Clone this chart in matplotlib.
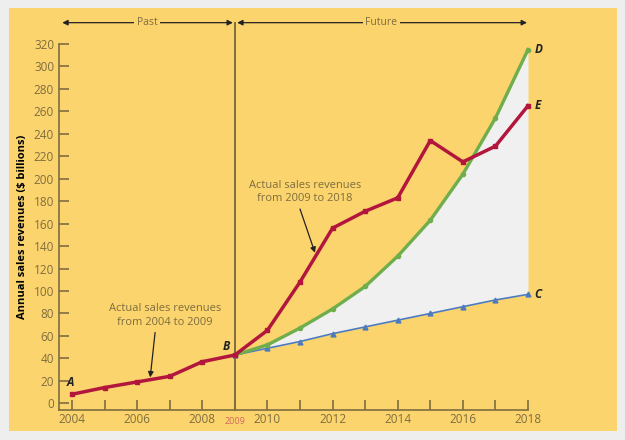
import numpy as np
import matplotlib
matplotlib.use("Agg")
import matplotlib.pyplot as plt
from matplotlib.patches import Rectangle

plt.rcParams['font.family'] = ['Open Sans', 'DejaVu Sans']

# actual sales, 2004-2018
years_actual = [2004, 2005, 2006, 2007, 2008, 2009, 2010, 2011, 2012, 2013, 2014, 2015, 2016, 2017, 2018]
sales_actual = [8, 14, 19, 24, 37, 43, 65, 108, 156, 171, 183, 234, 215, 229, 265]

# forecasts from 2009
years_fc = [2009, 2010, 2011, 2012, 2013, 2014, 2015, 2016, 2017, 2018]
sales_high = [43, 52, 67, 84, 104, 131, 163, 204, 254, 315]
sales_low = [43, 49, 55, 62, 68, 74, 80, 86, 92, 97]

xticks = [2004, 2006, 2008, 2010, 2012, 2014, 2016, 2018]
yticks = list(range(0, 321, 20))

yellow = '#fcd46e'
olive = '#7d6d3e'
red = '#b3163c'
green = '#6fae4b'
blue = '#4d7bbd'

fig = plt.figure(figsize=(6.25, 4.4), dpi=100)
fig.patch.set_facecolor('#eeeeee')
fig.patches.append(Rectangle((0.0144, 0.0205), 0.9726, 0.9613, transform=fig.transFigure,
                             facecolor=yellow, edgecolor='none', zorder=-10))

ax = fig.add_axes([0.0944, 0.0682, 0.7504, 0.8318])
ax.set_facecolor('none')
ax.set_xlim(2003.6, 2018)
ax.set_ylim(-6, 320)

ax.fill_between(years_fc, sales_low, sales_high, color='#f0f0f0', lw=0, zorder=1)
ax.plot(years_fc, sales_low, color=blue, lw=1.2, marker='^', ms=3.5, clip_on=False, zorder=3)
ax.plot(years_fc, sales_high, color=green, lw=2.4, marker='o', ms=3, clip_on=False, zorder=4)
ax.plot(years_actual, sales_actual, color=red, lw=2.5, marker='s', ms=3.5, clip_on=False, zorder=5)

# past / future divider
ax.plot([2009, 2009], [-6, 339], color=olive, lw=1.4, clip_on=False, zorder=2)

for s in ['top', 'right']:
    ax.spines[s].set_visible(False)
for s in ['left', 'bottom']:
    ax.spines[s].set_color(olive)
    ax.spines[s].set_linewidth(1.2)

ax.set_xticks(range(2004, 2019))
ax.set_xticklabels([str(y) if y in xticks else '' for y in range(2004, 2019)])
ax.set_yticks(yticks)
ax.tick_params(axis='both', direction='in', color=olive, labelcolor=olive, labelsize=8.5,
               length=7, width=1.2)
ax.tick_params(axis='x', pad=2)
ax.text(2009, -12, '2009', color='#d2675e', fontsize=6.5, ha='center', va='top')

ax.set_ylabel('Annual sales revenues ($ billions)', fontsize=8, fontweight='bold', labelpad=4)

# point labels
lab = dict(fontsize=8.5, fontweight='bold', fontstyle='italic', color='#222222')
ax.text(2003.85, 13, 'A', ha='left', va='bottom', **lab)
ax.text(2008.85, 45, 'B', ha='right', va='bottom', **lab)
ax.text(2018.2, 97, 'C', ha='left', va='center', **lab)
ax.text(2018.2, 315, 'D', ha='left', va='center', **lab)
ax.text(2018.2, 265, 'E', ha='left', va='center', **lab)

# annotations
note = dict(ha='center', va='center', fontsize=8, color=olive, linespacing=1.3)
ax.text(2006.85, 78, 'Actual sales revenues\nfrom 2004 to 2009', **note)
ax.text(2011.15, 188, 'Actual sales revenues\nfrom 2009 to 2018', **note)
pt = dict(arrowstyle='-|>', color='#222222', lw=0.9, shrinkA=0, shrinkB=0, mutation_scale=8)
ax.annotate('', xy=(2006.4, 23), xytext=(2006.55, 63), arrowprops=pt)
ax.annotate('', xy=(2011.46, 134), xytext=(2011.0, 173), arrowprops=pt)

# past / future arrows
arr = dict(arrowstyle='-|>', color='#222222', lw=0.9, mutation_scale=8, shrinkA=0, shrinkB=0)
ax.annotate('', xy=(2003.7, 339), xytext=(2006.3, 339), arrowprops=arr, annotation_clip=False)
ax.annotate('', xy=(2008.94, 339), xytext=(2006.3, 339), arrowprops=arr, annotation_clip=False)
ax.annotate('', xy=(2009.07, 339), xytext=(2013.5, 339), arrowprops=arr, annotation_clip=False)
ax.annotate('', xy=(2017.97, 339), xytext=(2013.5, 339), arrowprops=arr, annotation_clip=False)
ax.text(2006.3, 339, 'Past', ha='center', va='center', fontsize=7.5, color=olive,
        bbox=dict(facecolor=yellow, edgecolor='none', pad=2), clip_on=False, zorder=6)
ax.text(2013.5, 339, 'Future', ha='center', va='center', fontsize=7.5, color=olive,
        bbox=dict(facecolor=yellow, edgecolor='none', pad=2), clip_on=False, zorder=6)

fig.savefig('out.png', dpi=100, facecolor=fig.get_facecolor())
